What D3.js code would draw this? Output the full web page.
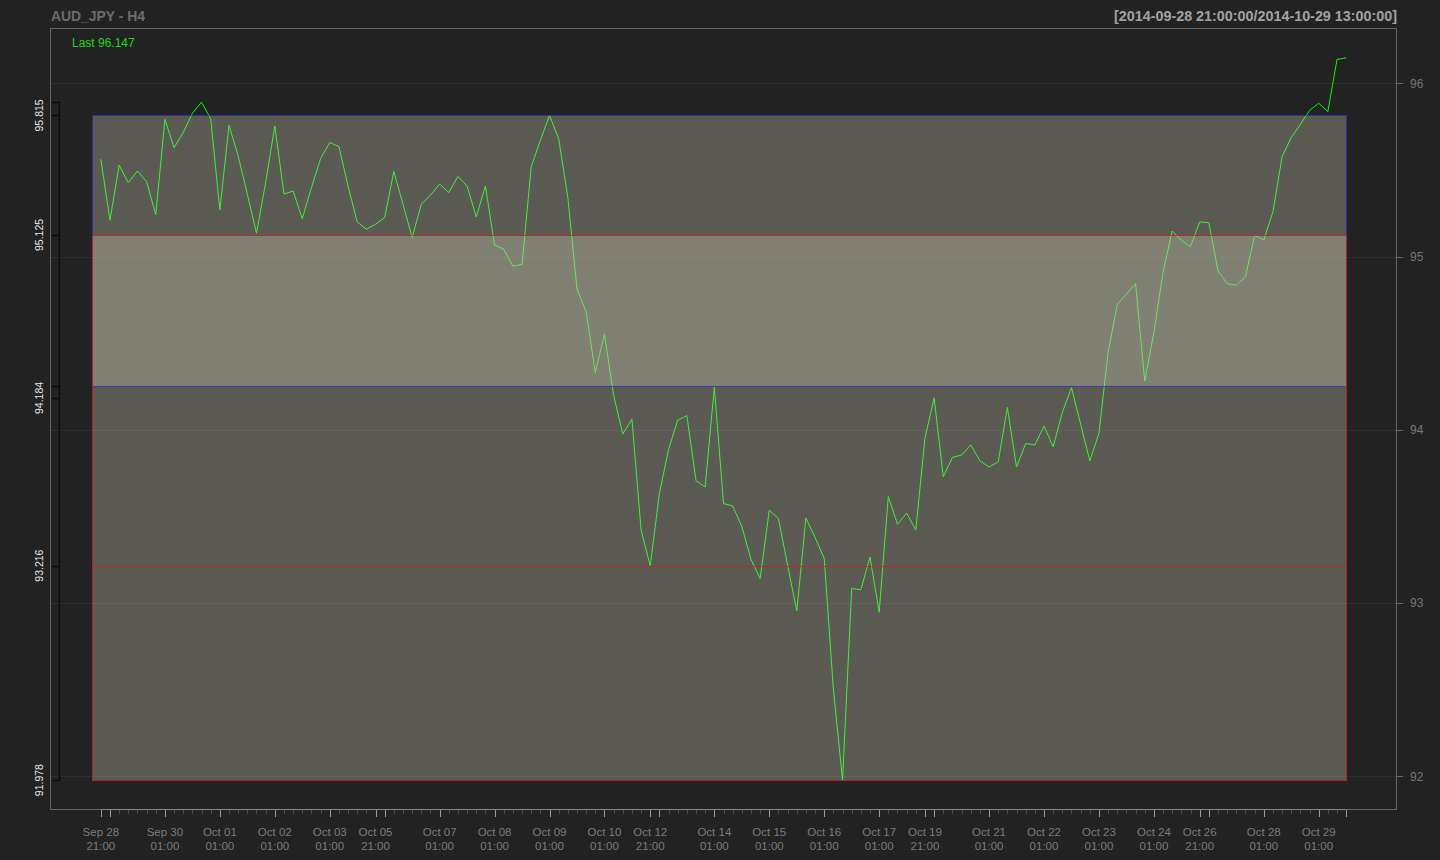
<!DOCTYPE html>
<html>
<head>
<meta charset="utf-8">
<script src="https://cdn.jsdelivr.net/npm/d3@7"></script>
<style>
  html, body { margin: 0; padding: 0; background: #222222; }
  svg { display: block; }
  text { font-family: "Liberation Sans", Arial, Helvetica, sans-serif; }
</style>
</head>
<body>
<svg id="chart" width="1440" height="860"></svg>
<script>
// ---- data (4-hour closes, bar index 0 = 2014-09-28 21:00) ----
const closes = [
  95.562, 95.210, 95.527, 95.427, 95.494, 95.433, 95.242, 95.792, 95.629, 95.716,
  95.827, 95.892, 95.796, 95.269, 95.758, 95.581, 95.360, 95.135, 95.427, 95.754,
  95.361, 95.379, 95.219, 95.398, 95.566, 95.658, 95.635, 95.407, 95.200, 95.158,
  95.187, 95.225, 95.491, 95.302, 95.110, 95.302, 95.354, 95.419, 95.369, 95.463,
  95.407, 95.229, 95.407, 95.067, 95.042, 94.945, 94.955, 95.518, 95.671, 95.815,
  95.681, 95.341, 94.813, 94.681, 94.330, 94.554, 94.199, 93.976, 94.062, 93.422,
  93.216, 93.632, 93.886, 94.056, 94.082, 93.706, 93.670, 94.247, 93.574, 93.561,
  93.442, 93.252, 93.142, 93.536, 93.488, 93.219, 92.955, 93.490, 93.379, 93.257,
  92.503, 91.978, 93.084, 93.077, 93.265, 92.947, 93.615, 93.455, 93.519, 93.422,
  93.953, 94.184, 93.729, 93.841, 93.854, 93.913, 93.821, 93.785, 93.815, 94.129,
  93.785, 93.921, 93.913, 94.021, 93.902, 94.100, 94.244, 94.033, 93.821, 93.979,
  94.446, 94.725, 94.783, 94.844, 94.282, 94.562, 94.911, 95.148, 95.094, 95.058,
  95.200, 95.196, 94.917, 94.844, 94.835, 94.883, 95.123, 95.096, 95.258, 95.577,
  95.687, 95.763, 95.844, 95.885, 95.837, 96.138, 96.147
];

// x-axis: major tick bar indices, and labelled ticks
const majorTickIndex = [0, 1, 7, 13, 19, 25, 30, 31, 37, 43, 49, 55, 60, 61, 67, 73, 79, 85, 90, 91, 97, 103, 109, 115, 120, 121, 127, 133, 136];
const labelIndex  = [0, 7, 13, 19, 25, 30, 37, 43, 49, 55, 60, 67, 73, 79, 85, 90, 97, 103, 109, 115, 120, 127, 133];
const labelDay    = ["Sep 28", "Sep 30", "Oct 01", "Oct 02", "Oct 03", "Oct 05", "Oct 07", "Oct 08", "Oct 09", "Oct 10", "Oct 12", "Oct 14", "Oct 15", "Oct 16", "Oct 17", "Oct 19", "Oct 21", "Oct 22", "Oct 23", "Oct 24", "Oct 26", "Oct 28", "Oct 29"];
const labelTime   = ["21:00", "01:00", "01:00", "01:00", "01:00", "21:00", "01:00", "01:00", "01:00", "01:00", "21:00", "01:00", "01:00", "01:00", "01:00", "21:00", "01:00", "01:00", "01:00", "01:00", "21:00", "01:00", "01:00"];

// right axis ticks
const priceTicks = [92, 93, 94, 95, 96];

// levels (left axis)
const levelTicks  = [95.892, 95.815, 95.125, 94.252, 94.184, 93.216, 91.978];
const levelLabels = [95.815, 95.125, 94.184, 93.216, 91.978];
const blueZone = [95.815, 94.252];
const redZone  = [95.125, 91.978];
const midLevel = 93.216;

const titleText = "AUD_JPY - H4";
const rangeText = "[2014-09-28 21:00:00/2014-10-29 13:00:00]";

// ---- drawing ----
const svg = d3.select("#chart");
const L = 51, R = 1396, T = 29, B = 809;

const n = closes.length;
const xPad = (n - 1) * 0.04;
const x = d3.scaleLinear().domain([-xPad, (n - 1) + xPad]).range([L, R]);
const [ymin, ymax] = d3.extent(closes);
const yPad = (ymax - ymin) * 0.04;
const y = d3.scaleLinear().domain([ymin - yPad, ymax + yPad]).range([B, T]);
const py = v => Math.round(y(v)) + 0.5;
const px = i => Math.round(x(i)) + 0.5;

// background
svg.append("rect").attr("width", 1440).attr("height", 860).attr("fill", "#222222");

// grid
svg.append("g").selectAll("line").data(priceTicks).join("line")
  .attr("x1", L).attr("x2", R)
  .attr("y1", py).attr("y2", py)
  .attr("stroke", "#2e2e2e").attr("stroke-width", 1);

// price line
const line = d3.line().x((d, i) => x(i)).y(d => y(d));
svg.append("path").datum(closes)
  .attr("d", line)
  .attr("fill", "none")
  .attr("stroke", "#00ff00")
  .attr("stroke-width", 1);

// zones (semi-transparent, drawn over the line)
const zoneFill = "rgb(199,199,176)";
const blueStroke = "rgba(40,40,210,0.75)";
const redStroke = "rgba(205,30,30,0.8)";
function zoneFillRect(vals) {
  const y0 = py(vals[0]), y1 = py(vals[1]);
  svg.append("rect")
    .attr("x", px(-1)).attr("y", y0)
    .attr("width", px(n - 1) - px(-1)).attr("height", y1 - y0)
    .attr("fill", zoneFill).attr("fill-opacity", 0.34);
}
function zoneBorder(vals, stroke) {
  const y0 = py(vals[0]), y1 = py(vals[1]);
  svg.append("rect")
    .attr("x", px(-1)).attr("y", y0)
    .attr("width", px(n - 1) - px(-1)).attr("height", y1 - y0)
    .attr("fill", "none")
    .attr("stroke", stroke).attr("stroke-width", 1);
}
zoneFillRect(blueZone);
zoneFillRect(redZone);
zoneBorder(blueZone, blueStroke);
zoneBorder(redZone, redStroke);
svg.append("line")
  .attr("x1", px(-1)).attr("x2", px(n - 1))
  .attr("y1", py(midLevel)).attr("y2", py(midLevel))
  .attr("stroke", redStroke).attr("stroke-width", 1);

// frame
svg.append("rect")
  .attr("x", L - 0.5).attr("y", T - 0.5)
  .attr("width", R - L + 1).attr("height", B - T + 1)
  .attr("fill", "none").attr("stroke", "#666666").attr("stroke-width", 1);

// bottom axis
const gx = svg.append("g");
gx.append("line")
  .attr("x1", x(0)).attr("x2", x(n - 1))
  .attr("y1", B + 0.5).attr("y2", B + 0.5)
  .attr("stroke", "#888888");
gx.selectAll("line.minor").data(d3.range(n)).join("line").attr("class", "minor")
  .attr("x1", px).attr("x2", px)
  .attr("y1", B + 1).attr("y2", B + 5)
  .attr("stroke", "#4a4a4a");
gx.selectAll("line.major").data(majorTickIndex).join("line").attr("class", "major")
  .attr("x1", px).attr("x2", px)
  .attr("y1", B + 1).attr("y2", B + 8)
  .attr("stroke", "#999999");
const lab = gx.selectAll("g.lab").data(labelIndex).join("g").attr("class", "lab")
  .attr("transform", i => `translate(${x(i)},0)`);
lab.append("text")
  .attr("y", 836).attr("text-anchor", "middle")
  .attr("font-size", "11.5px").attr("fill", "#7c7c7c")
  .text((d, k) => labelDay[k]);
lab.append("text")
  .attr("y", 850).attr("text-anchor", "middle")
  .attr("font-size", "11.5px").attr("fill", "#7c7c7c")
  .text((d, k) => labelTime[k]);

// right axis
const gr = svg.append("g");
gr.selectAll("line").data(priceTicks).join("line")
  .attr("x1", R).attr("x2", R + 7)
  .attr("y1", py).attr("y2", py)
  .attr("stroke", "#666666");
gr.selectAll("text").data(priceTicks).join("text")
  .attr("x", R + 14).attr("y", d => y(d)).attr("dy", "0.36em")
  .attr("font-size", "12px").attr("fill", "#777777")
  .text(d => d);

// left level axis
const axX = 59;
const gl = svg.append("g");
gl.append("line")
  .attr("x1", axX + 0.5).attr("x2", axX + 0.5)
  .attr("y1", y(d3.max(levelTicks))).attr("y2", y(d3.min(levelTicks)))
  .attr("stroke", "#0c0c0c").attr("stroke-width", 1.5);
gl.selectAll("line.t").data(levelTicks).join("line").attr("class", "t")
  .attr("x1", 52).attr("x2", axX + 1)
  .attr("y1", py).attr("y2", py)
  .attr("stroke", "#0c0c0c").attr("stroke-width", 1.5);
gl.selectAll("text").data(levelLabels).join("text")
  .attr("transform", d => `translate(42.5,${y(d)}) rotate(-90)`)
  .attr("text-anchor", "middle")
  .attr("font-size", "10.5px").attr("fill", "#e6e6e6")
  .text(d => d3.format(".3f")(d));

// titles
svg.append("text")
  .attr("x", 51).attr("y", 20.5)
  .attr("font-size", "15px").attr("font-weight", "bold").attr("fill", "#6c6c6c")
  .attr("textLength", 94).attr("lengthAdjust", "spacingAndGlyphs")
  .text(titleText);
svg.append("text")
  .attr("x", 1114).attr("y", 20.5)
  .attr("font-size", "15px").attr("font-weight", "bold").attr("fill", "#a2a2a2")
  .attr("textLength", 283).attr("lengthAdjust", "spacingAndGlyphs")
  .text(rangeText);

// last value
svg.append("text")
  .attr("x", 72).attr("y", 47)
  .attr("font-size", "12px").attr("fill", "#1fd81f")
  .text("Last " + closes[n - 1]);
</script>
</body>
</html>
